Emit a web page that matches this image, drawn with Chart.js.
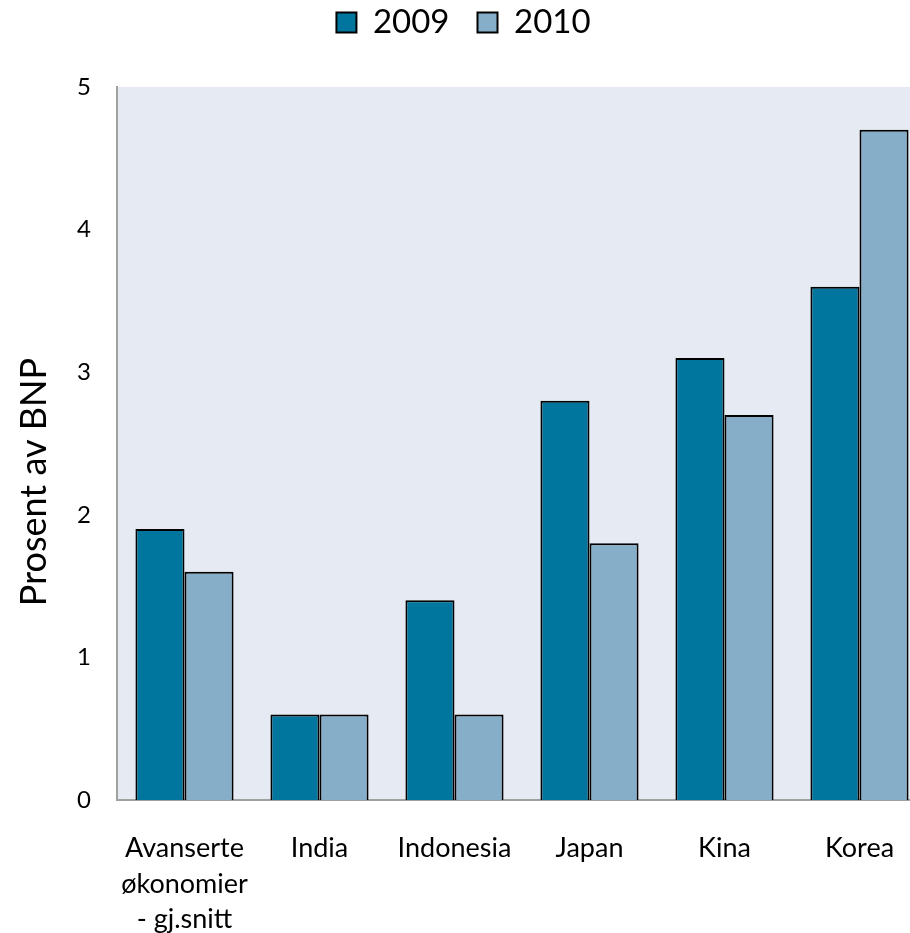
<!DOCTYPE html>
<html>
<head>
<meta charset="utf-8">
<script src="https://cdn.jsdelivr.net/npm/chart.js@4"></script>
<style>
  html, body { margin: 0; padding: 0; background: #fff; overflow: hidden; }
  /* plottet går litt ut over høyre kant, som i originalen */
  #wrap { width: 910px; height: 933px; overflow: hidden; }
</style>
</head>
<body>
<div id="wrap"><canvas id="bnpChart" width="927" height="933"></canvas></div>
<script>
const categories = [['Avanserte', 'økonomier', '- gj.snitt'], 'India', 'Indonesia', 'Japan', 'Kina', 'Korea'];
const values2009 = [1.9, 0.6, 1.4, 2.8, 3.1, 3.6];
const values2010 = [1.6, 0.6, 0.6, 1.8, 2.7, 4.7];
const yTicks = [0, 1, 2, 3, 4, 5];
const yTitle = 'Prosent av BNP';

const fontName = 'Lato, "Open Sans", sans-serif';

// lys bakgrunn bak plottet
const plotBackground = {
    id: 'plotBackground',
    beforeDraw(chart) {
        const { ctx, chartArea } = chart;
        ctx.save();
        ctx.fillStyle = '#E6EBF3';
        ctx.fillRect(chartArea.left, chartArea.top, chartArea.right - chartArea.left, chartArea.bottom - chartArea.top);
        ctx.restore();
    }
};

// legenden: flytt opp, og juster luft under
const legendGap = {
    id: 'legendGap',
    beforeInit(chart) {
        const origFit = chart.legend.fit;
        chart.legend.fit = function () {
            origFit.bind(chart.legend)();
            this.height += 16;
        };
    },
    afterLayout(chart) {
        chart.legend.top -= 22;
        chart.legend.bottom -= 22;
    }
};

// y-aksetittel, litt under midten som i originalen
const yAxisTitle = {
    id: 'yAxisTitle',
    afterDraw(chart) {
        const { ctx } = chart;
        ctx.save();
        ctx.translate(34, 482);
        ctx.rotate(-Math.PI / 2);
        ctx.font = '36px ' + fontName;
        ctx.fillStyle = '#000';
        ctx.textAlign = 'center';
        ctx.textBaseline = 'middle';
        ctx.fillText(yTitle, 0, 0);
        ctx.restore();
    }
};

const ctx = document.getElementById('bnpChart').getContext('2d');
new Chart(ctx, {
    type: 'bar',
    data: {
        labels: categories,
        datasets: [{
            label: '2009',
            data: values2009,
            backgroundColor: '#00759E',
            borderColor: '#000',
            borderWidth: 2
        }, {
            label: '2010',
            data: values2010,
            backgroundColor: '#87AEC8',
            borderColor: '#000',
            borderWidth: 2
        }]
    },
    options: {
        responsive: false,
        animation: false,
        datasets: {
            bar: { barPercentage: 1, categoryPercentage: 0.727 }
        },
        layout: { padding: 0 },
        plugins: {
            legend: {
                position: 'top',
                labels: {
                    color: '#000',
                    font: { family: fontName, size: 33 },
                    boxWidth: 20,
                    boxHeight: 20,
                    padding: 28
                }
            },
            tooltip: { enabled: false }
        },
        scales: {
            x: {
                grid: { display: false, drawTicks: false },
                border: { color: '#A0A0A0', width: 2 },
                afterFit(axis) { axis.height = 133; },
                ticks: {
                    color: '#000',
                    font: { family: fontName, size: 27, lineHeight: 1.33 },
                    padding: 30,
                    maxRotation: 0,
                    autoSkip: false
                }
            },
            y: {
                min: 0,
                max: 5,
                grid: { display: false, drawTicks: false },
                border: { color: '#A0A0A0', width: 2 },
                afterBuildTicks(axis) {
                    axis.ticks = yTicks.map(v => ({ value: v }));
                },
                afterFit(axis) { axis.width = 117; },
                ticks: {
                    color: '#000',
                    font: { family: fontName, size: 24 },
                    padding: 26
                }
            }
        }
    },
    plugins: [plotBackground, legendGap, yAxisTitle]
});
</script>
</body>
</html>
